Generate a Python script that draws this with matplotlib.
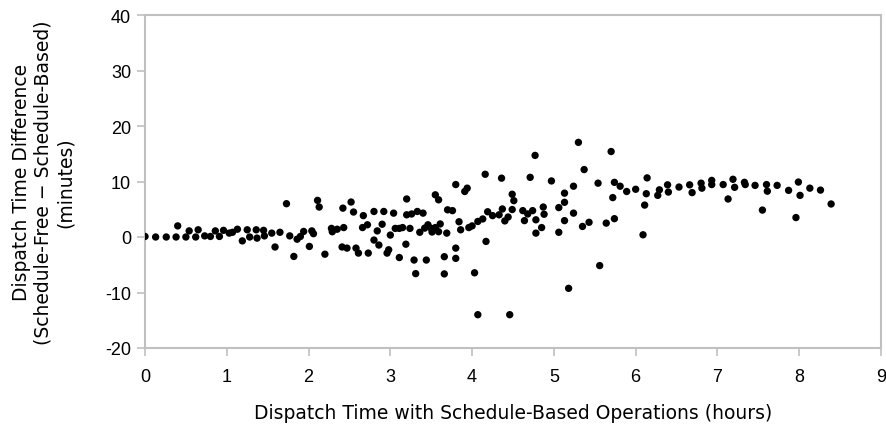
import matplotlib
matplotlib.use("Agg")
import matplotlib.pyplot as plt

x_hours = [
    0.00, 0.13, 0.26, 0.40, 0.38, 0.50, 0.54, 0.62, 0.65, 0.73, 0.80, 0.86, 0.91, 0.96,
    1.03, 1.07, 1.13, 1.19, 1.25, 1.28, 1.36, 1.37, 1.45, 1.46, 1.55, 1.59, 1.65, 1.73,
    1.77, 1.82, 1.86, 1.90, 1.94, 2.01, 2.04, 2.06, 2.11, 2.13,
    2.20, 2.28, 2.29, 2.35, 2.42, 2.41, 2.43, 2.47, 2.52, 2.55, 2.58, 2.61, 2.66, 2.67,
    2.72, 2.73, 2.80, 2.80, 2.84, 2.86, 2.90, 2.92, 2.96, 2.98, 3.00, 3.04, 3.06, 3.11,
    3.11, 3.15, 3.19, 3.20, 3.20, 3.24, 3.26, 3.29, 3.31, 3.33, 3.36, 3.40, 3.42, 3.44,
    3.46, 3.50, 3.51, 3.55, 3.59, 3.55, 3.59, 3.61, 3.66, 3.66, 3.69, 3.70, 3.76, 3.80,
    3.80, 3.80, 3.84, 3.86, 3.91, 3.94, 3.96, 4.00, 4.03, 4.07, 4.13, 4.16, 4.17, 4.19,
    4.07, 4.46, 4.25, 4.33, 4.37, 4.36, 4.40, 4.44, 4.49, 4.49, 4.51, 4.62, 4.64, 4.68,
    4.71, 4.74, 4.77, 4.78, 4.78, 4.85, 4.87, 4.88, 4.97, 5.06, 5.06, 5.13, 5.13, 5.13,
    5.18, 5.24, 5.24, 5.30, 5.35, 5.37, 5.43, 5.54, 5.56, 5.64, 5.70, 5.72, 5.74, 5.74,
    5.81, 5.89, 6.00, 6.09, 6.11, 6.13, 6.14,
    6.27, 6.29, 6.39, 6.40, 6.53, 6.66, 6.69, 6.80, 6.81, 6.93, 6.93, 7.07, 7.13, 7.19,
    7.21, 7.33, 7.34, 7.46, 7.55, 7.60, 7.61, 7.73, 7.87, 7.96, 7.99, 8.01, 8.13, 8.26,
    8.39,
]
y_minutes = [
    0.1, 0.0, 0.0, 2.0, 0.0, 0.0, 1.1, 0.0, 1.3, 0.2, 0.1, 1.1, 0.1, 1.2,
    0.7, 0.85, 1.4, -0.7, 1.3, 0.0, 1.3, -0.2, 1.2, 0.2, 0.7, -1.8, 0.85, 6.0,
    0.2, -3.5, -0.4, 0.1, 1.0, -1.7, 1.1, 0.6, 6.6, 5.4,
    -3.1, 1.55, 0.95, 1.4, 5.2, -1.8, 1.7, -2.0, 6.3, 4.5, -2.0, -2.9, 1.7, 3.85,
    2.2, -2.9, 4.6, -0.55, 1.1, -1.45, 2.3, 4.6, -2.9, -2.3, 0.35, 4.3, 1.55, 1.55,
    -3.7, 1.7, -1.3, 6.85, 4.0, 1.55, 4.15, -4.15, -6.6, 4.6, 0.85, 4.3, 1.6, -4.15,
    2.2, 1.55, 0.9, 7.6, 6.7, 1.7, 0.95, 2.35, -3.55, -6.65, 0.7, 4.9, 4.75, -2.0,
    -3.85, 9.45, 2.75, 1.3, 8.2, 8.8, 1.7, 2.0, -6.45, 2.8, 3.25, 11.3, -0.8, 4.55,
    -14.0, -14.0, 3.85, 4.0, 5.05, 10.6, 2.9, 3.6, 4.95, 7.7, 6.55, 4.75, 2.95, 4.15,
    10.75, 4.75, 14.7, 0.7, 3.1, 1.7, 5.4, 4.1, 10.1, 5.3, 0.85, 7.9, 6.25, 2.95,
    -9.25, 9.15, 4.3, 17.05, 1.9, 12.15, 2.65, 9.7, -5.15, 2.5, 15.4, 7.1, 9.85, 3.3,
    9.15, 8.2, 8.6, 0.4, 5.75, 7.8, 10.65,
    7.5, 8.5, 9.4, 8.1, 9.0, 9.4, 8.0, 9.7, 8.8, 10.2, 9.45, 9.45, 6.85, 10.4,
    8.95, 9.85, 9.45, 9.3, 4.85, 9.45, 8.25, 9.3, 8.4, 3.5, 9.9, 7.5, 8.8, 8.45,
    5.95,
]
x_ticks = [0, 1, 2, 3, 4, 5, 6, 7, 8, 9]
y_ticks = [-20, -10, 0, 10, 20, 30, 40]

fig = plt.figure(figsize=(8.87, 4.27), dpi=100)
ax = fig.add_axes([145 / 887, (427 - 349) / 427, 736 / 887, 333 / 427])
ax.scatter(x_hours, y_minutes, s=28, color="black", edgecolors="none", zorder=3)

ax.set_xlim(0, 9)
ax.set_ylim(-20, 40)
ax.set_xticks(x_ticks)
ax.set_yticks(y_ticks)
ax.set_xticklabels([str(t) for t in x_ticks], family="Liberation Sans", fontsize=13)
ax.set_yticklabels([str(t) for t in y_ticks], family="Liberation Sans", fontsize=13)

for sp in ax.spines.values():
    sp.set_color("#c0c0c0")
    sp.set_linewidth(1.5)
ax.tick_params(axis="both", direction="out", length=6, width=1.2, color="#c0c0c0",
               labelcolor="black")
ax.tick_params(axis="x", pad=8.5)
ax.tick_params(axis="y", pad=4)

ax.set_xlabel("Dispatch Time with Schedule-Based Operations (hours)",
              family="DejaVu Sans", fontsize=13.5)
ax.xaxis.set_label_coords(0.5, (349 - 404) / 333)
ax.set_ylabel("Dispatch Time Difference\n(Schedule-Free \u2212 Schedule-Based)\n(minutes)",
              family="DejaVu Sans", fontsize=13.5, linespacing=1.2)
ax.yaxis.set_label_coords((75 - 145) / 736, 0.5)

fig.savefig("out.png", dpi=100)
